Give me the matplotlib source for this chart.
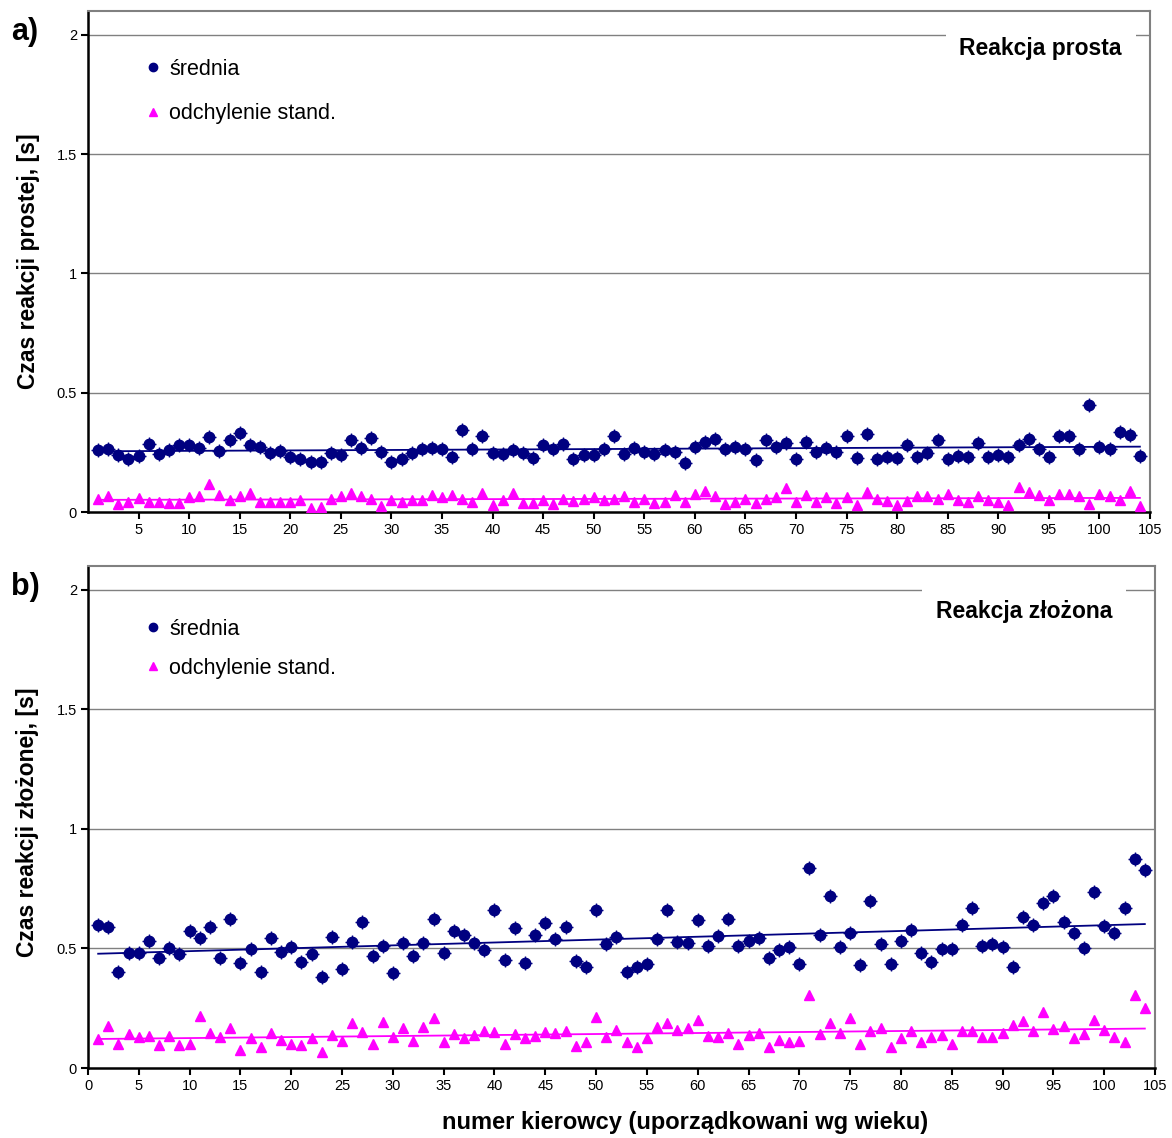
import matplotlib
matplotlib.use("Agg")

import numpy as np
import matplotlib.pyplot as plt
from matplotlib.lines import Line2D

plt.rcParams['font.family'] = ['Liberation Sans', 'DejaVu Sans']

# driver number (sorted by age)
drivers = np.arange(1, 105)

# a) simple reaction
mean_a = [0.260, 0.265, 0.238, 0.222, 0.236, 0.284, 0.243, 0.260, 0.279, 0.279,
          0.269, 0.315, 0.257, 0.300, 0.332, 0.279, 0.274, 0.248, 0.255, 0.232,
          0.222, 0.211, 0.211, 0.246, 0.241, 0.300, 0.269, 0.312, 0.253, 0.211,
          0.222, 0.246, 0.265, 0.269, 0.265, 0.232, 0.342, 0.265, 0.317, 0.246,
          0.243, 0.260, 0.248, 0.227, 0.279, 0.262, 0.286, 0.222, 0.239, 0.239,
          0.265, 0.317, 0.243, 0.269, 0.253, 0.243, 0.260, 0.253, 0.204, 0.274,
          0.295, 0.304, 0.262, 0.274, 0.262, 0.216, 0.300, 0.274, 0.290, 0.222,
          0.295, 0.253, 0.269, 0.253, 0.317, 0.227, 0.328, 0.222, 0.232, 0.227,
          0.279, 0.232, 0.248, 0.300, 0.222, 0.236, 0.232, 0.289, 0.232, 0.241,
          0.232, 0.279, 0.304, 0.262, 0.232, 0.320, 0.317, 0.262, 0.450, 0.274,
          0.262, 0.337, 0.324, 0.236]
std_a = [0.056, 0.068, 0.035, 0.044, 0.058, 0.040, 0.040, 0.037, 0.037, 0.061,
         0.068, 0.117, 0.070, 0.049, 0.068, 0.079, 0.044, 0.040, 0.040, 0.040,
         0.049, 0.018, 0.023, 0.056, 0.068, 0.080, 0.065, 0.056, 0.025, 0.049,
         0.044, 0.049, 0.049, 0.072, 0.061, 0.070, 0.056, 0.044, 0.079, 0.028,
         0.051, 0.079, 0.037, 0.037, 0.049, 0.035, 0.056, 0.046, 0.056, 0.063,
         0.049, 0.056, 0.068, 0.042, 0.056, 0.037, 0.042, 0.072, 0.042, 0.077,
         0.086, 0.065, 0.032, 0.042, 0.056, 0.037, 0.056, 0.061, 0.099, 0.042,
         0.072, 0.042, 0.061, 0.037, 0.061, 0.028, 0.084, 0.056, 0.046, 0.028,
         0.046, 0.065, 0.065, 0.056, 0.077, 0.049, 0.040, 0.065, 0.049, 0.044,
         0.028, 0.106, 0.082, 0.072, 0.049, 0.077, 0.077, 0.068, 0.032, 0.077,
         0.065, 0.049, 0.089, 0.025]

# b) choice reaction
mean_b = [0.600, 0.590, 0.402, 0.479, 0.479, 0.532, 0.461, 0.503, 0.476, 0.574,
          0.544, 0.590, 0.461, 0.625, 0.440, 0.496, 0.402, 0.544, 0.486, 0.507,
          0.444, 0.476, 0.379, 0.549, 0.414, 0.528, 0.611, 0.468, 0.512, 0.396,
          0.521, 0.468, 0.521, 0.622, 0.482, 0.574, 0.558, 0.521, 0.493, 0.660,
          0.451, 0.586, 0.440, 0.558, 0.607, 0.538, 0.590, 0.447, 0.423, 0.663,
          0.518, 0.549, 0.402, 0.423, 0.434, 0.538, 0.663, 0.528, 0.521, 0.621,
          0.511, 0.553, 0.625, 0.511, 0.532, 0.542, 0.461, 0.493, 0.507, 0.434,
          0.838, 0.558, 0.718, 0.507, 0.563, 0.430, 0.699, 0.518, 0.434, 0.532,
          0.579, 0.482, 0.444, 0.496, 0.496, 0.600, 0.671, 0.511, 0.518, 0.507,
          0.423, 0.632, 0.600, 0.692, 0.720, 0.611, 0.563, 0.503, 0.737, 0.594,
          0.563, 0.671, 0.876, 0.827]
std_b = [0.121, 0.175, 0.100, 0.142, 0.128, 0.134, 0.096, 0.134, 0.096, 0.100,
         0.217, 0.147, 0.128, 0.166, 0.075, 0.124, 0.086, 0.147, 0.117, 0.100,
         0.096, 0.124, 0.066, 0.138, 0.113, 0.187, 0.152, 0.100, 0.191, 0.131,
         0.166, 0.114, 0.170, 0.208, 0.107, 0.143, 0.124, 0.138, 0.156, 0.152,
         0.100, 0.143, 0.124, 0.134, 0.152, 0.147, 0.156, 0.091, 0.110, 0.212,
         0.131, 0.159, 0.110, 0.086, 0.124, 0.170, 0.190, 0.159, 0.166, 0.200,
         0.134, 0.128, 0.147, 0.100, 0.138, 0.147, 0.086, 0.117, 0.110, 0.114,
         0.305, 0.143, 0.187, 0.147, 0.208, 0.100, 0.155, 0.169, 0.089, 0.124,
         0.155, 0.110, 0.131, 0.138, 0.099, 0.155, 0.156, 0.128, 0.128, 0.147,
         0.180, 0.198, 0.155, 0.233, 0.162, 0.176, 0.124, 0.143, 0.201, 0.159,
         0.131, 0.107, 0.305, 0.249]

NAVY = "#000080"
MAGENTA = "#FF00FF"
W, H = 1172, 1138


def px_axes(left, top, right, bottom):
    return [left / W, 1 - bottom / H, (right - left) / W, (bottom - top) / H]


def draw_panel(ax, mean, std, title, xticks, legend_anchor, legend_spacing):
    ax.set_xlim(0, 105)
    ax.set_ylim(0, 2.1)
    for yv in [0.5, 1, 1.5, 2]:
        ax.axhline(yv, color="#808080", lw=1.0, zorder=0)

    # trend lines (linear fit)
    for vals, col in [(mean, NAVY), (std, MAGENTA)]:
        k, b = np.polyfit(drivers, vals, 1)
        ax.plot([drivers[0], drivers[-1]], [k * drivers[0] + b, k * drivers[-1] + b],
                color=col, lw=1.3, zorder=2)

    ax.plot(drivers, mean, "o", color=NAVY, ms=7.5, zorder=3)
    ax.plot(drivers, mean, "+", color=NAVY, ms=10, mew=1.0, zorder=3)
    ax.plot(drivers, std, "^", color=MAGENTA, ms=6.5, zorder=3)

    ax.set_yticks([0, 0.5, 1, 1.5, 2])
    ax.set_yticklabels(["0", "0.5", "1", "1.5", "2"])
    ax.set_xticks(xticks)
    ax.tick_params(axis="both", direction="out", length=5, width=1.5,
                   labelsize=10.5, pad=3)
    for side in ["left", "bottom"]:
        ax.spines[side].set_color("black")
        ax.spines[side].set_linewidth(1.8)
    for side in ["top", "right"]:
        ax.spines[side].set_color("#808080")
        ax.spines[side].set_linewidth(1.5)

    handles = [Line2D([], [], ls="none", marker="o", color=NAVY, ms=6),
               Line2D([], [], ls="none", marker="^", color=MAGENTA, ms=6)]
    ax.legend(handles, ["średnia", "odchylenie stand."], loc="upper left",
              bbox_to_anchor=legend_anchor, frameon=False, fontsize=15.5,
              handlelength=0.7, handletextpad=0.4, borderpad=0,
              borderaxespad=0, labelspacing=legend_spacing)

    ax.text(title[1], title[2], title[0], transform=ax.transAxes, ha="center",
            va="center", fontsize=16.5, fontweight="bold", zorder=4,
            bbox=dict(boxstyle="square,pad=0.6", fc="white", ec="none"))


fig = plt.figure(figsize=(W / 100, H / 100), dpi=100)

ax_a = fig.add_axes(px_axes(88, 11, 1150, 512))
draw_panel(ax_a, mean_a, std_a, ("Reakcja prosta", 0.897, 0.926),
           np.arange(5, 106, 5), (0.054, 0.905), 1.1)

ax_b = fig.add_axes(px_axes(88, 566, 1155, 1068))
draw_panel(ax_b, mean_b, std_b, ("Reakcja złożona", 0.877, 0.91),
           np.arange(0, 106, 5), (0.054, 0.895), 0.85)

fig.text(25 / W, 1 - 32 / H, "a)", fontsize=22, fontweight="bold",
         ha="center", va="center")
fig.text(25 / W, 1 - 587 / H, "b)", fontsize=22, fontweight="bold",
         ha="center", va="center")
fig.text(28 / W, 1 - 261 / H, "Czas reakcji prostej, [s]", rotation=90,
         fontsize=16.5, fontweight="bold", ha="center", va="center")
fig.text(28 / W, 1 - 822 / H, "Czas reakcji złożonej, [s]", rotation=90,
         fontsize=16.5, fontweight="bold", ha="center", va="center")
fig.text(685 / W, 1 - 1123 / H, "numer kierowcy (uporządkowani wg wieku)",
         fontsize=17, fontweight="bold", ha="center", va="center")

fig.savefig("out.png", dpi=100)
